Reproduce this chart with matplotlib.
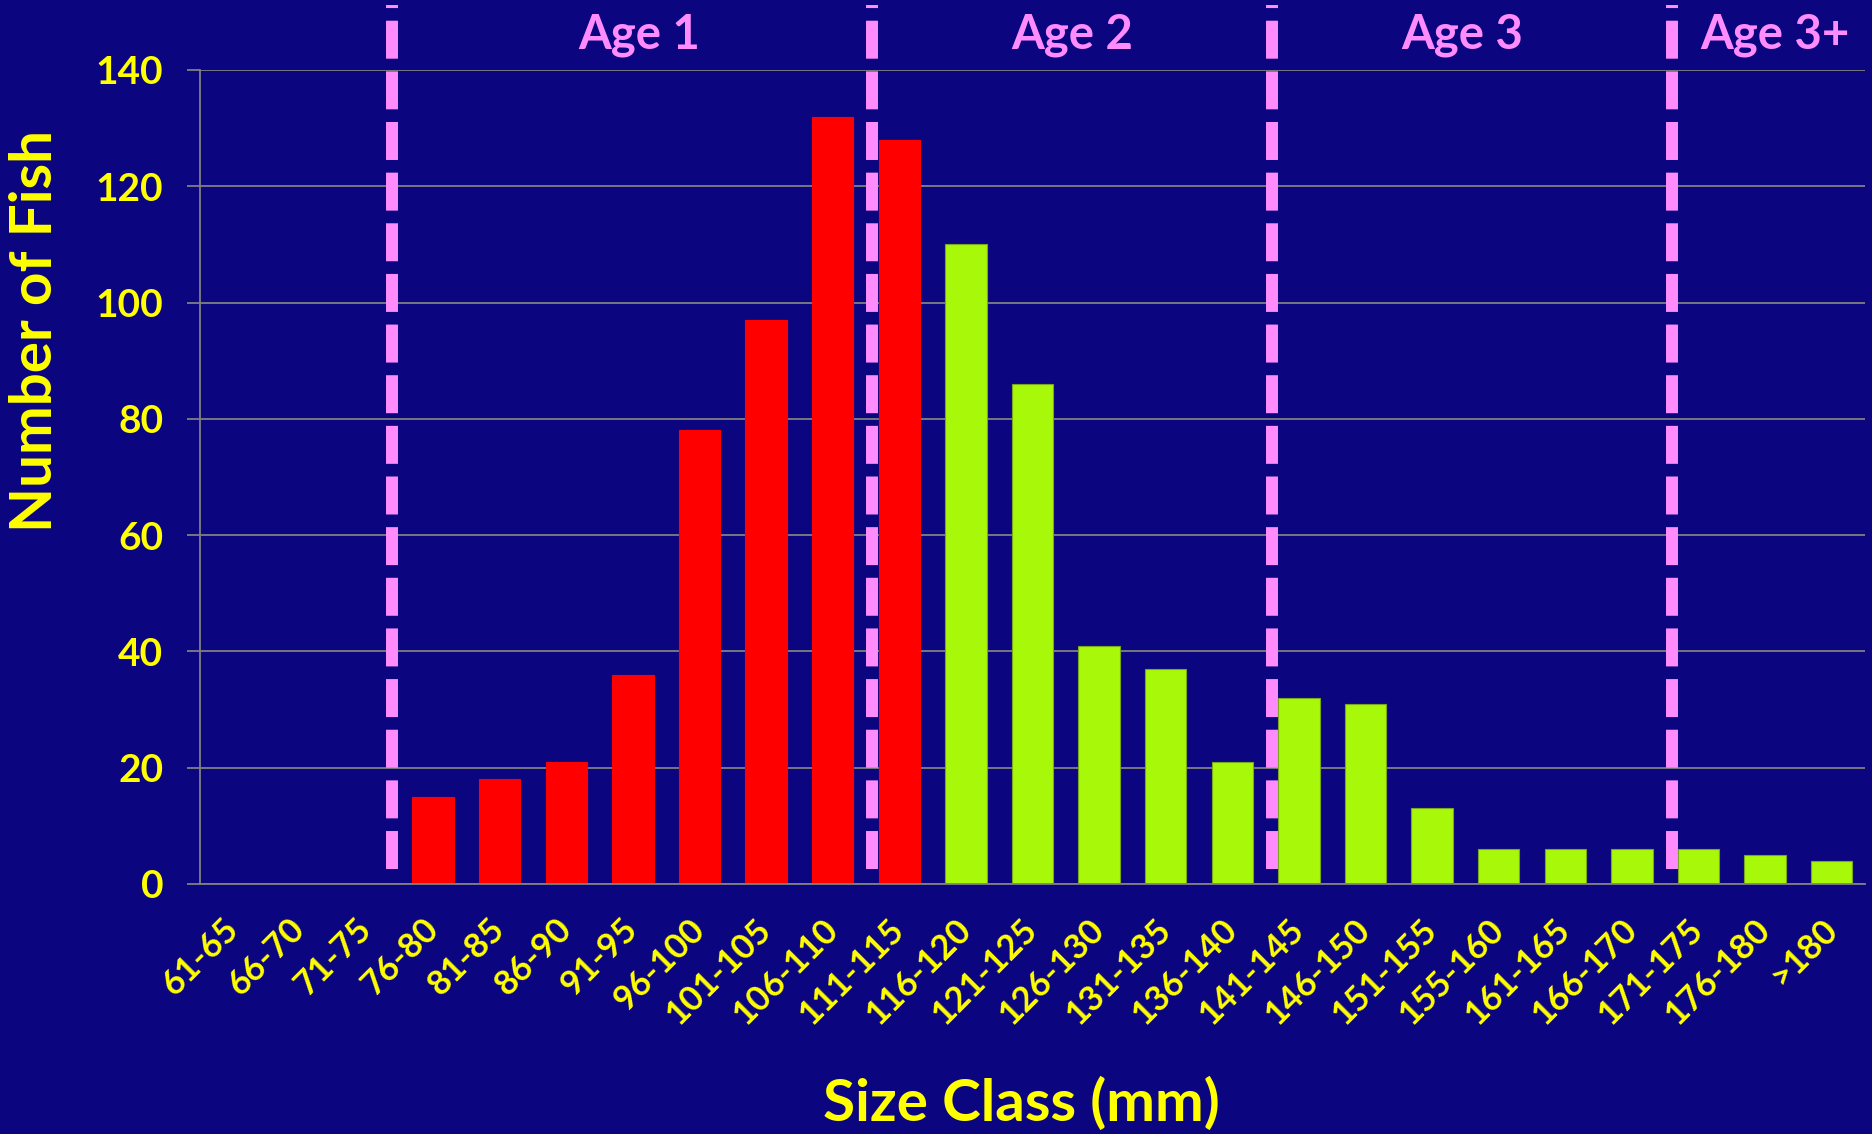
import matplotlib
matplotlib.use("Agg")
import matplotlib.pyplot as plt
import matplotlib.transforms as mtransforms

# Size classes (mm) and fish counts
size_classes = ["61-65", "66-70", "71-75", "76-80", "81-85", "86-90", "91-95",
                "96-100", "101-105", "106-110", "111-115", "116-120", "121-125",
                "126-130", "131-135", "136-140", "141-145", "146-150", "151-155",
                "155-160", "161-165", "166-170", "171-175", "176-180", ">180"]
counts = [0, 0, 0, 15, 18, 21, 36, 78, 97, 132, 128, 110, 86,
          41, 37, 21, 32, 31, 13, 6, 6, 6, 6, 5, 4]
# first 11 classes are the red (younger) group, rest green
n_red = 11

age_labels = ["Age 1", "Age 2", "Age 3", "Age 3+"]
age_label_pos = [6.1, 12.6, 18.45, 23.15]
age_breaks = [2.38, 9.59, 15.6, 21.6]

BG = "#0c0580"
YELLOW = "#ffff00"
PINK = "#ff8cff"
RED = "#ff0000"
GREEN = "#a8f80a"
GRID = "#808080"

plt.rcParams["font.family"] = ["Lato", "DejaVu Sans"]
plt.rcParams["font.weight"] = "bold"

fig = plt.figure(figsize=(18.72, 11.34), dpi=100, facecolor=BG)
ax = fig.add_axes([200 / 1872, 1 - 884 / 1134, 1665 / 1872, 814 / 1134])
ax.set_facecolor(BG)

x = list(range(len(size_classes)))
colors = [RED if i < n_red else GREEN for i in x]
edges = [RED if i < n_red else "#7aa81a" for i in x]
ax.bar(x, counts, width=0.62, color=colors, edgecolor=edges, linewidth=0.8,
       zorder=2)

ax.set_xlim(-0.5, len(size_classes) - 0.5)
ax.set_ylim(0, 140)
ax.set_yticks(range(0, 141, 20))
ax.set_axisbelow(True)
ax.grid(axis="y", color=GRID, linewidth=1.3)

for side in ("top", "right"):
    ax.spines[side].set_visible(False)
for side in ("left", "bottom"):
    ax.spines[side].set_color(GRID)
    ax.spines[side].set_linewidth(1.3)
ax.spines["bottom"].set_zorder(3)

ax.set_xticks(x)
ax.set_xticklabels(size_classes, rotation=45, ha="right", va="center",
                   rotation_mode="anchor", fontsize=25, fontweight="bold",
                   color=YELLOW)
ax.tick_params(axis="x", length=0, pad=29)
ax.tick_params(axis="y", length=9.4, width=1.3, color=GRID, pad=17,
               labelsize=28, labelcolor=YELLOW)
for lbl in ax.get_yticklabels():
    lbl.set_fontweight("bold")

# dashed age-break lines, running above the plot area
for xb in age_breaks:
    ax.axvline(xb, ymin=0.018, ymax=1.08, color=PINK, linewidth=8.6,
               linestyle=(0, (3.18, 1.06)), solid_capstyle="butt",
               dash_capstyle="butt", clip_on=False, zorder=4)

trans = mtransforms.blended_transform_factory(ax.transData, ax.transAxes)
for label, xp in zip(age_labels, age_label_pos):
    ax.text(xp, 1.027, label, transform=trans, ha="center", va="baseline",
            fontsize=34, fontweight="bold", color=PINK, clip_on=False)

fig.text(36 / 1872, 1 - 331 / 1134, "Number of Fish", rotation=90,
         ha="center", va="center", fontsize=42, fontweight="bold",
         color=YELLOW)
fig.text(1021 / 1872, 1 - 1104 / 1134, "Size Class (mm)", ha="center",
         va="center", fontsize=42, fontweight="bold", color=YELLOW)

fig.savefig("out.png", dpi=100, facecolor=BG)
